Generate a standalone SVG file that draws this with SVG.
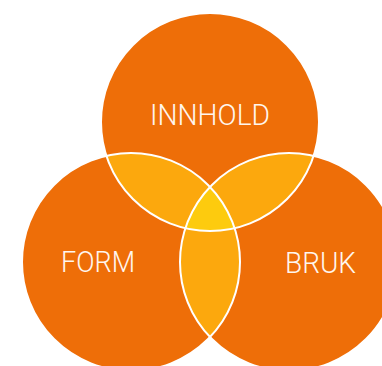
<svg xmlns="http://www.w3.org/2000/svg" width="382" height="366" viewBox="0 0 382 366">
<style>
.base{fill:#EE6E08}
.pair{fill:#FCA80D}
.mid{fill:#FDCB0E}
.ring{fill:none;stroke:#FFFFFF;stroke-width:2}
.lbl{font-family:Roboto,"Liberation Sans",sans-serif;font-weight:300;font-size:30px;fill:#FFF6EE;text-anchor:middle}
</style>
<defs>
<clipPath id="cT"><circle cx="210" cy="122" r="109"/></clipPath>
<clipPath id="cL"><circle cx="131" cy="262" r="109"/></clipPath>
</defs>
<g id="fills">
<circle class="base" cx="210" cy="122" r="109"/>
<circle class="base" cx="131" cy="262" r="109"/>
<circle class="base" cx="289" cy="262" r="109"/>
<g clip-path="url(#cT)"><circle class="pair" cx="131" cy="262" r="109"/><circle class="pair" cx="289" cy="262" r="109"/></g>
<g clip-path="url(#cL)"><circle class="pair" cx="289" cy="262" r="109"/></g>
<g clip-path="url(#cT)"><g clip-path="url(#cL)"><circle class="mid" cx="289" cy="262" r="109"/></g></g>
</g>
<g id="connectors">
<circle class="ring" cx="210" cy="122" r="109"/>
<circle class="ring" cx="131" cy="262" r="109"/>
<circle class="ring" cx="289" cy="262" r="109"/>
</g>
<g id="innhold"><text class="lbl" x="210" y="124.5" textLength="120" lengthAdjust="spacingAndGlyphs">INNHOLD</text></g>
<g id="form"><text class="lbl" x="98" y="272" textLength="74" lengthAdjust="spacingAndGlyphs">FORM</text></g>
<g id="bruk"><text class="lbl" x="320.5" y="273" textLength="71" lengthAdjust="spacingAndGlyphs">BRUK</text></g>
</svg>
